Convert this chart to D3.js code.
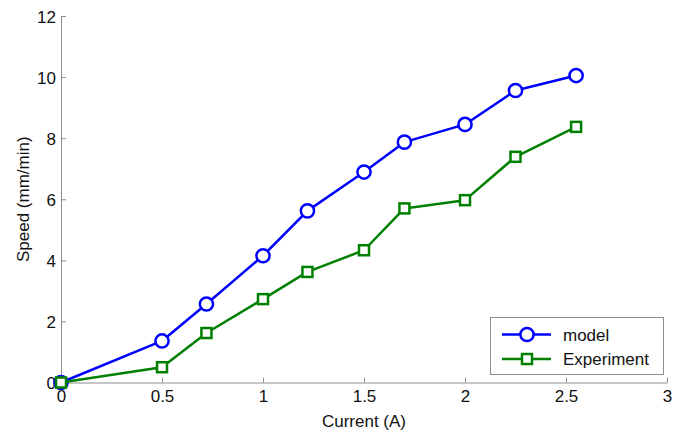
<!DOCTYPE html>
<html>
<head>
<meta charset="utf-8">
<script src="https://cdn.jsdelivr.net/npm/d3@7"></script>
<style>
  html, body { margin: 0; padding: 0; background: #fff; }
  svg { display: block; }
  text { font-family: "Liberation Sans", Arial, Helvetica, sans-serif; fill: #111; }
</style>
</head>
<body>
<svg id="chart" width="687" height="432"></svg>
<script>
// Current (A) at which speed was evaluated
const current = [0, 0.5, 0.72, 1.0, 1.22, 1.5, 1.7, 2.0, 2.25, 2.55];
// Speed (mm/min)
const modelSpeed      = [0, 1.36, 2.57, 4.15, 5.62, 6.89, 7.87, 8.45, 9.56, 10.05];
const experimentSpeed = [0, 0.5, 1.62, 2.73, 3.62, 4.33, 5.70, 5.97, 7.39, 8.37];
// Axis ticks
const xTicks = [0, 0.5, 1, 1.5, 2, 2.5, 3];
const yTicks = [0, 2, 4, 6, 8, 10, 12];
const seriesNames = ["model", "Experiment"];

const svg = d3.select("#chart");
const plotLeft = 61, plotRight = 667, plotTop = 16, plotBottom = 382.5;
const fontSize = 17;

const x = d3.scaleLinear().domain([0, 3]).range([plotLeft, plotRight]);
const y = d3.scaleLinear().domain([0, 12]).range([plotBottom, plotTop]);

const axisColor = "#8c8c8c";

// Axes with inward ticks
const xAxis = svg.append("g")
  .attr("transform", `translate(0,${plotBottom})`)
  .call(d3.axisBottom(x).tickValues(xTicks).tickSizeInner(-5).tickSizeOuter(0)
        .tickFormat(d3.format("~g")));
const yAxis = svg.append("g")
  .attr("transform", `translate(${plotLeft},0)`)
  .call(d3.axisLeft(y).tickValues(yTicks).tickSizeInner(-5).tickSizeOuter(0)
        .tickFormat(d3.format("~g")));

[xAxis, yAxis].forEach(g => {
  g.select(".domain").attr("stroke", axisColor).attr("stroke-width", 1);
  g.selectAll(".tick line").attr("stroke", axisColor).attr("stroke-width", 1);
  g.selectAll(".tick text")
    .attr("font-family", '"Liberation Sans", Arial, sans-serif')
    .attr("font-size", fontSize).attr("fill", "#111");
});
yAxis.selectAll(".tick text").attr("x", -5).attr("dy", "0.36em");
xAxis.selectAll(".tick text").attr("y", 19.5).attr("dy", 0);

// Axis titles
svg.append("text")
  .attr("x", (plotLeft + plotRight) / 2).attr("y", 427)
  .attr("text-anchor", "middle").attr("font-size", fontSize)
  .text("Current (A)");
svg.append("text")
  .attr("transform", `translate(28.5,${(plotTop + plotBottom) / 2}) rotate(-90)`)
  .attr("text-anchor", "middle").attr("font-size", fontSize)
  .text("Speed (mm/min)");

const series = [
  { name: seriesNames[0], values: modelSpeed, color: "#0000ff", marker: "circle" },
  { name: seriesNames[1], values: experimentSpeed, color: "#008000", marker: "square" }
];

const line = d3.line().x(d => x(d[0])).y(d => y(d[1]));

function drawMarker(g, cx, cy, s) {
  if (s.marker === "circle") {
    g.append("circle").attr("cx", cx).attr("cy", cy).attr("r", 6.6)
      .attr("fill", "#fff").attr("stroke", s.color).attr("stroke-width", 2.5);
  } else {
    g.append("rect").attr("x", cx - 5).attr("y", cy - 5)
      .attr("width", 10).attr("height", 10)
      .attr("fill", "#fff").attr("stroke", s.color).attr("stroke-width", 2.5);
  }
}

series.forEach(s => {
  const pts = current.map((c, i) => [c, s.values[i]]);
  const g = svg.append("g");
  g.append("path").datum(pts).attr("d", line)
    .attr("fill", "none").attr("stroke", s.color).attr("stroke-width", 2.5)
    .attr("stroke-linejoin", "round");
  pts.forEach(p => drawMarker(g, x(p[0]), y(p[1]), s));
});

// Legend
const lg = svg.append("g");
lg.append("rect").attr("x", 490.5).attr("y", 317.5).attr("width", 173).attr("height", 57)
  .attr("fill", "#fff").attr("stroke", "#8c8c8c").attr("stroke-width", 1);
series.forEach((s, i) => {
  const cy = 334.5 + i * 24.5;
  lg.append("line").attr("x1", 502).attr("x2", 551).attr("y1", cy).attr("y2", cy)
    .attr("stroke", s.color).attr("stroke-width", 2.5);
  drawMarker(lg, 527, cy, s);
  lg.append("text").attr("x", 563).attr("y", cy).attr("dy", "0.36em")
    .attr("font-size", fontSize).text(s.name);
});
</script>
</body>
</html>
